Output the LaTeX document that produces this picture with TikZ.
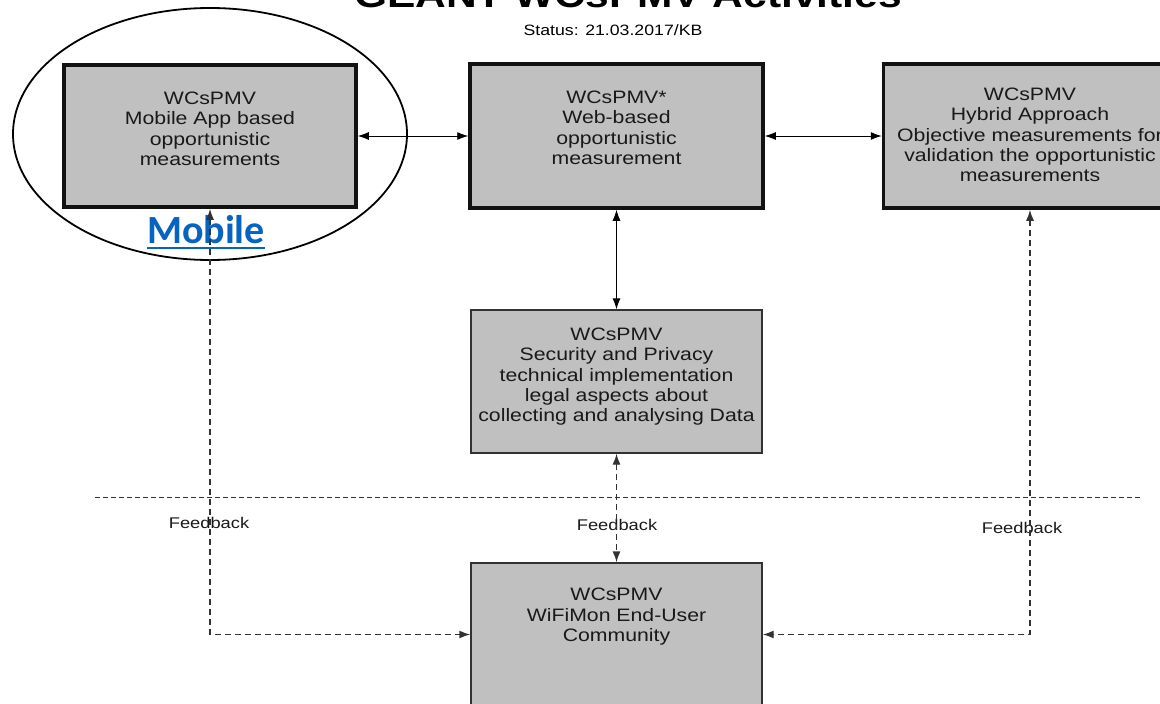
\documentclass[tikz,border=0pt]{standalone}
\usepackage{fontspec}
\usepackage{graphicx}
\setmainfont{Liberation Sans}
\newfontfamily\calibrifont{Carlito}
\usetikzlibrary{arrows.meta,shapes.geometric}

\definecolor{boxgray}{RGB}{192,192,192}
\definecolor{linkblue}{RGB}{5,99,193}
\definecolor{dashgray}{RGB}{50,50,50}

% text is set slightly wide throughout
\newcommand\wide[1]{\scalebox{1.18}[1]{#1}}
\newcommand\lines[1]{\wide{\begin{tabular}{@{}c@{}}#1\end{tabular}}}

\tikzset{
  tip/.tip={Latex[length=11pt,width=8pt]},
  mainbox/.style={draw=black!93, fill=boxgray, line width=3.5pt,
    minimum width=292pt, minimum height=142pt, inner sep=0pt},
  subbox/.style={draw=dashgray, fill=boxgray, line width=1.4pt,
    minimum width=291pt, minimum height=143pt, inner sep=0pt},
  boxtext/.style={inner sep=0pt, text=black!90,
    font=\fontsize{18}{20.3}\selectfont},
  link/.style={line width=0.9pt, tip-tip},
  feed/.style={line width=1.4pt, draw=dashgray, dash pattern=on 6pt off 4pt, tip-tip},
  fblabel/.style={inner sep=0pt, anchor=base, text=black!90,
    font=\fontsize{15.5}{18}\selectfont},
}

\begin{document}
\begin{tikzpicture}[x=1pt, y=-1pt]
\useasboundingbox (0,0) rectangle (1160,704);

% heading
\node[anchor=base, inner sep=0pt, font=\fontsize{36}{40}\selectfont\bfseries] (title) at (628,7)
  {\wide{GÉANT WCsPMV Activities}};
\node[anchor=base, inner sep=0pt, font=\fontsize{15}{17}\selectfont] (status) at (613,35)
  {\wide{Status: 21.03.2017/KB}};

% boxes
\node[mainbox] (b1) at (210,136) {};
\node[mainbox, minimum width=293pt, minimum height=144pt] (b2) at (616.5,136) {};
\node[mainbox, minimum width=293pt, minimum height=144pt] (b3) at (1030,136) {};
\node[subbox] (b4) at (616.5,381.5) {};
\node[subbox] (b5) at (616.5,634.5) {};

% box contents
\node[boxtext] (t1) at (210,131)
  {\lines{WCsPMV\\Mobile App based\\opportunistic\\measurements}};
\node[boxtext] (t2) at (616.5,130)
  {\lines{WCsPMV*\\Web-based\\opportunistic\\measurement}};
\node[boxtext] (t3) at (1030,137)
  {\lines{WCsPMV\\Hybrid Approach\\Objective measurements for\\validation the opportunistic\\measurements}};
\node[boxtext] (t4) at (616.5,377)
  {\lines{WCsPMV\\Security and Privacy\\technical implementation\\legal aspects about\\collecting and analysing Data}};
\node[boxtext] (t5) at (616.5,617)
  {\lines{WCsPMV\\WiFiMon End-User\\Community}};

% highlight round the mobile activity
\node[draw=black, line width=1.8pt, ellipse, minimum width=394pt, minimum height=252pt,
  inner sep=0pt] (oval) at (210,134) {};
\node[anchor=base, inner sep=0pt, text=linkblue,
  font=\fontsize{40}{44}\selectfont\calibrifont\bfseries] (mob) at (206,243) {Mobile};
\draw[linkblue, line width=2.6pt] ([yshift=-5pt]mob.base west) -- ([yshift=-5pt]mob.base east);

% separator
\coordinate (sepL) at (95,497);
\coordinate (sepR) at (1140,497);
\draw[dashgray, line width=1pt, dash pattern=on 5pt off 3pt] (sepL) -- (sepR);

% feedback labels
\node[fblabel] (f1) at (209,528) {\wide{Feedback}};
\node[fblabel] (f2) at (617,530) {\wide{Feedback}};
\node[fblabel] (f3) at (1022,533) {\wide{Feedback}};

% solid links between activities
\draw[link] (b1.east) -- (b2.west);
\draw[link] (b2.east) -- (b3.west);
\draw[link] (b2.south) -- (b4.north);

% feedback loops with the community
\draw[feed] (b4.south) -- (b5.north);
\draw[feed] (b1.south) -- (b1.south |- b5.west) -- (b5.west);
\draw[feed] (b3.south) -- (b3.south |- b5.east) -- (b5.east);
\end{tikzpicture}
\end{document}
